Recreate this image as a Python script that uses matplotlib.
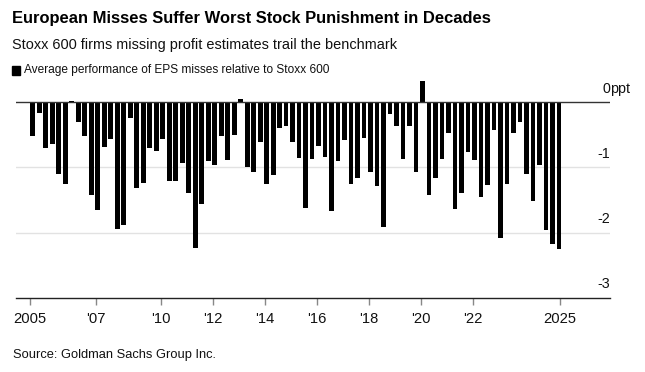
import matplotlib
matplotlib.use("Agg")
import matplotlib.pyplot as plt
import numpy as np

# quarterly averages, 2005Q1 .. 2025Q2 (ppt vs Stoxx 600)
start_year = 2005
misses = [-0.52, -0.16, -0.70, -0.64, -1.10, -1.26, 0.02, -0.30, -0.52, -1.43,
          -1.66, -0.69, -0.56, -1.95, -1.89, -0.24, -1.32, -1.24, -0.70, -0.75,
          -0.56, -1.21, -1.21, -0.93, -1.39, -2.24, -1.56, -0.90, -0.96, -0.52,
          -0.88, -0.50, 0.05, -0.99, -1.07, -0.61, -1.26, -1.12, -0.39, -0.36,
          -0.61, -0.86, -1.63, -0.87, -0.67, -0.84, -1.67, -0.90, -0.58, -1.26,
          -1.16, -0.55, -1.07, -1.29, -1.92, -0.18, -0.36, -0.87, -0.36, -1.07,
          0.32, -1.43, -1.16, -0.87, -0.47, -1.64, -1.39, -0.77, -0.88, -1.45,
          -1.27, -0.42, -2.08, -1.25, -0.47, -0.30, -1.11, -1.51, -0.97, -1.96,
          -2.17, -2.25]

xtick_pos = [2004.95, 2007.5, 2010, 2012, 2014, 2016, 2018, 2020, 2022, 2025.33]
xtick_labels = ["2005", "'07", "'10", "'12", "'14", "'16", "'18", "'20", "'22", "2025"]
ytick_pos = [0, -1, -2, -3]
ytick_labels = ["0", "-1", "-2", "-3"]

title = "European Misses Suffer Worst Stock Punishment in Decades"
subtitle = "Stoxx 600 firms missing profit estimates trail the benchmark"
legend_label = "Average performance of EPS misses relative to Stoxx 600"
source = "Source: Goldman Sachs Group Inc."

plt.rcParams['font.family'] = ['Liberation Sans', 'DejaVu Sans']

W, H = 645, 372
fig = plt.figure(figsize=(W / 100, H / 100), dpi=100)

x = start_year + np.arange(len(misses)) * 0.25 + 0.06

left, right, bottom_px, top_px = 16, 610, 297.7, 79.0
ax = fig.add_axes([left / W, 1 - bottom_px / H, (right - left) / W, (bottom_px - top_px) / H])

ax.bar(x, misses, width=0.185, color="black", zorder=3)

ax.set_ylim(-3, 0.355)
ax.set_xlim(2004.42, 2027.27)

for y in ytick_pos[1:3]:
    ax.axhline(y, color="#e2e2e2", lw=1, zorder=1)
ax.axhline(0, color="#333333", lw=1, zorder=4)

for s in ["top", "right", "left"]:
    ax.spines[s].set_visible(False)
ax.spines["bottom"].set_color("#222222")
ax.spines["bottom"].set_linewidth(1)

ax.set_xticks(xtick_pos)
ax.set_xticklabels(xtick_labels, fontsize=10.6, color="#111111")
ax.tick_params(axis="x", length=5, width=1, color="#888888", pad=5)
ax.set_yticks([])

# y labels sit above gridlines, right aligned at the axis end
xr = ax.get_xlim()[1]
for y, lab in zip(ytick_pos, ytick_labels):
    ax.text(xr, y + 0.1, lab, fontsize=10.3, ha="right", va="bottom", color="#111111")
ax.text(xr, 0.1, "ppt", fontsize=10.3, ha="left", va="bottom", color="#111111")

fig.text(12 / W, 1 - 18 / H, title, fontsize=11.85, fontweight="bold", va="center", ha="left")
fig.text(12 / W, 1 - 45 / H, subtitle, fontsize=10.45, va="center", ha="left", color="#111111")
fig.patches.append(plt.Rectangle((12 / W, 1 - 75 / H), 8 / W, 9 / H,
                                 transform=fig.transFigure, color="black"))
fig.text(24 / W, 1 - 70.5 / H, legend_label, fontsize=8.6, va="center", ha="left", color="#111111")
fig.text(13 / W, 1 - 355 / H, source, fontsize=9.3, va="center", ha="left", color="#111111")

fig.savefig("out.png", dpi=100)
